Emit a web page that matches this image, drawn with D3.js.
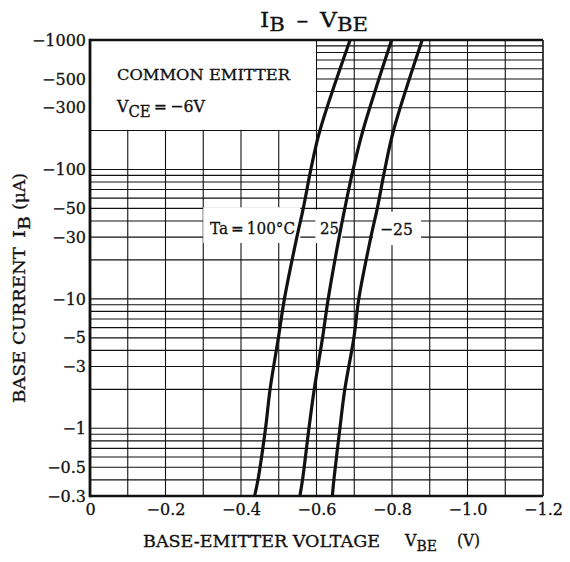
<!DOCTYPE html>
<html><head><meta charset="utf-8">
<script src="https://cdn.jsdelivr.net/npm/d3@7/dist/d3.min.js"></script>
<style>
body{margin:0;background:#fff}
svg{display:block}
text{font-family:"DejaVu Serif",serif;fill:#111;stroke:#111;stroke-width:0.3px}
</style>
</head><body>
<svg id="c" width="570" height="562"></svg>
<script>
// ---- data ----
const baseCurrent = [-0.3, -0.4, -1, -2, -5, -10, -30, -50, -100, -200, -1000]; // µA
const vbeTa100 = [-0.436, -0.445, -0.465, -0.477, -0.499, -0.515, -0.548, -0.565, -0.585, -0.609, -0.689];
const vbeTa25  = [-0.556, -0.563, -0.580, -0.594, -0.616, -0.631, -0.660, -0.675, -0.697, -0.723, -0.799];
const vbeTaM25 = [-0.642, -0.646, -0.662, -0.675, -0.699, -0.712, -0.744, -0.761, -0.781, -0.804, -0.880];
const seriesLabels = ["Ta\u2009=\u2009100\u00B0C", "25", "\u221225"];
const xTickValues = [0, -0.2, -0.4, -0.6, -0.8, -1.0, -1.2];
const xTickLabels = ["0", "\u22120.2", "\u22120.4", "\u22120.6", "\u22120.8", "\u22121.0", "\u22121.2"];
const yTickValues = [-1000, -500, -300, -100, -50, -30, -10, -5, -3, -1, -0.5, -0.3];
const yTickLabels = ["\u22121000", "\u2212500", "\u2212300", "\u2212100", "\u221250", "\u221230", "\u221210", "\u22125", "\u22123", "\u22121", "\u22120.5", "\u22120.3"];

// ---- layout ----
const svg = d3.select("#c");
const x = d3.scaleLinear().domain([0, -1.2]).range([90, 543]);
const y = d3.scaleLog().domain([-0.3, -1000]).range([496, 40]);
const ink = "#111";

// grid
const gridV = d3.range(1, 12).map(i => -i / 10);
const gridH = [];
[-1, 0, 1, 2].forEach(k => { for (let m = 1; m <= 9; m++) { const v = -m * Math.pow(10, k); if (Math.abs(v) > 0.3 && Math.abs(v) < 1000) gridH.push(v); } });
const g = svg.append("g");
g.selectAll("line.v").data(gridV).join("line")
  .attr("x1", d => x(d)).attr("x2", d => x(d)).attr("y1", y(-1000)).attr("y2", y(-0.3))
  .attr("stroke", ink).attr("stroke-width", 1.1);
g.selectAll("line.h").data(gridH).join("line")
  .attr("x1", x(0)).attr("x2", x(-1.2)).attr("y1", d => y(d)).attr("y2", d => y(d))
  .attr("stroke", ink).attr("stroke-width", 1.1);

// annotation box (blank region top-left)
svg.append("rect").attr("x", x(0) + 1).attr("y", y(-1000) + 1)
  .attr("width", x(-0.6) - x(0) - 1.6).attr("height", y(-200) - y(-1000) - 1.6).attr("fill", "#fff");

// label background boxes
const labelBoxes = [
  {v0: -0.300, v1: -0.557, i0: -51, i1: -27},
  {v0: -0.597, v1: -0.668, i0: -49, i1: -27},
  {v0: -0.750, v1: -0.877, i0: -47, i1: -26}
];
svg.selectAll("rect.lb").data(labelBoxes).join("rect")
  .attr("x", d => x(d.v0)).attr("y", d => y(d.i0))
  .attr("width", d => x(d.v1) - x(d.v0)).attr("height", d => y(d.i1) - y(d.i0))
  .attr("fill", "#fff");

// borders
svg.append("line").attr("x1", x(0)).attr("x2", x(-1.2)).attr("y1", y(-1000)).attr("y2", y(-1000)).attr("stroke", ink).attr("stroke-width", 2.5);
svg.append("line").attr("x1", x(0)).attr("x2", x(-1.2)).attr("y1", y(-0.3)).attr("y2", y(-0.3)).attr("stroke", ink).attr("stroke-width", 2.5);
svg.append("line").attr("x1", x(0)).attr("x2", x(0)).attr("y1", y(-1000) - 1.2).attr("y2", y(-0.3) + 1.2).attr("stroke", ink).attr("stroke-width", 2.8);
svg.append("line").attr("x1", x(-1.2)).attr("x2", x(-1.2)).attr("y1", y(-1000)).attr("y2", y(-0.3)).attr("stroke", ink).attr("stroke-width", 1.6);

// curves
const series = [vbeTa100, vbeTa25, vbeTaM25].map(vs => vs.map((v, i) => ({v, i: baseCurrent[i]})));
const line = d3.line().x(d => x(d.v)).y(d => y(d.i)).curve(d3.curveCatmullRom.alpha(0.5));
svg.selectAll("path.s").data(series).join("path")
  .attr("d", line).attr("fill", "none").attr("stroke", ink).attr("stroke-width", 3.2)
  .attr("stroke-linejoin", "round");

// axes
const ya = svg.append("g").attr("transform", `translate(${x(0)},0)`)
  .call(d3.axisLeft(y).tickValues(yTickValues).tickFormat((d, i) => yTickLabels[i]).tickSize(0).tickPadding(4));
ya.select(".domain").remove();
ya.selectAll("text").attr("font-family", "DejaVu Serif").attr("font-size", 16).attr("fill", ink);
const xa = svg.append("g").attr("transform", `translate(0,${y(-0.3)})`)
  .call(d3.axisBottom(x).tickValues(xTickValues).tickFormat((d, i) => xTickLabels[i]).tickSize(0).tickPadding(8));
xa.select(".domain").remove();
xa.selectAll("text").attr("font-family", "DejaVu Serif").attr("font-size", 16).attr("fill", ink);

// series labels
const labelPos = [{v: -0.318, i: -36}, {v: -0.609, i: -36}, {v: -0.768, i: -35}];
const labelLen = [85, 19, 33];
svg.selectAll("text.sl").data(seriesLabels).join("text")
  .attr("x", (d, k) => x(labelPos[k].v)).attr("y", (d, k) => y(labelPos[k].i) + 7)
  .attr("font-size", 17).attr("textLength", (d, k) => labelLen[k]).attr("lengthAdjust", "spacingAndGlyphs")
  .text(d => d);

// annotation
svg.append("text").attr("x", 117).attr("y", 80).attr("font-size", 14.5)
  .attr("textLength", 173).attr("lengthAdjust", "spacingAndGlyphs").text("COMMON EMITTER");
const vce = svg.append("text").attr("x", 117).attr("y", 112).attr("font-size", 17)
  .attr("textLength", 88).attr("lengthAdjust", "spacingAndGlyphs");
vce.append("tspan").text("V");
vce.append("tspan").attr("dy", 5).attr("font-size", 16).text("CE");
vce.append("tspan").attr("dy", -5).text("\u2009=\u2009\u22126V");

// title
const t = svg.append("text").attr("x", 260).attr("y", 27).attr("font-size", 21)
  .attr("textLength", 108).attr("lengthAdjust", "spacingAndGlyphs");
t.append("tspan").text("I");
t.append("tspan").attr("dy", 4).attr("font-size", 19).text("B");
t.append("tspan").attr("dy", -4).text("\u2002\u2013\u2002V");
t.append("tspan").attr("dy", 4).attr("font-size", 19).text("BE");

// x axis title
svg.append("text").attr("x", 143).attr("y", 547).attr("font-size", 16)
  .attr("textLength", 237).attr("lengthAdjust", "spacingAndGlyphs").text("BASE-EMITTER VOLTAGE");
const xv = svg.append("text").attr("x", 405).attr("y", 546).attr("font-size", 17)
  .attr("textLength", 32).attr("lengthAdjust", "spacingAndGlyphs");
xv.append("tspan").text("V");
xv.append("tspan").attr("dy", 5).attr("font-size", 15).text("BE");
svg.append("text").attr("x", 457).attr("y", 546).attr("font-size", 16)
  .attr("textLength", 23).attr("lengthAdjust", "spacingAndGlyphs").text("(V)");

// y axis title
svg.append("text").attr("transform", "translate(25,403) rotate(-90)").attr("font-size", 16)
  .attr("textLength", 156).attr("lengthAdjust", "spacingAndGlyphs").text("BASE CURRENT");
const yb = svg.append("text").attr("transform", "translate(25,238) rotate(-90)").attr("font-size", 17)
  .attr("textLength", 22).attr("lengthAdjust", "spacingAndGlyphs");
yb.append("tspan").text("I");
yb.append("tspan").attr("dy", 5).attr("font-size", 16).text("B");
svg.append("text").attr("transform", "translate(25,210) rotate(-90)").attr("font-size", 16)
  .attr("textLength", 37).attr("lengthAdjust", "spacingAndGlyphs").text("(\u03BCA)");
</script>
</body></html>
